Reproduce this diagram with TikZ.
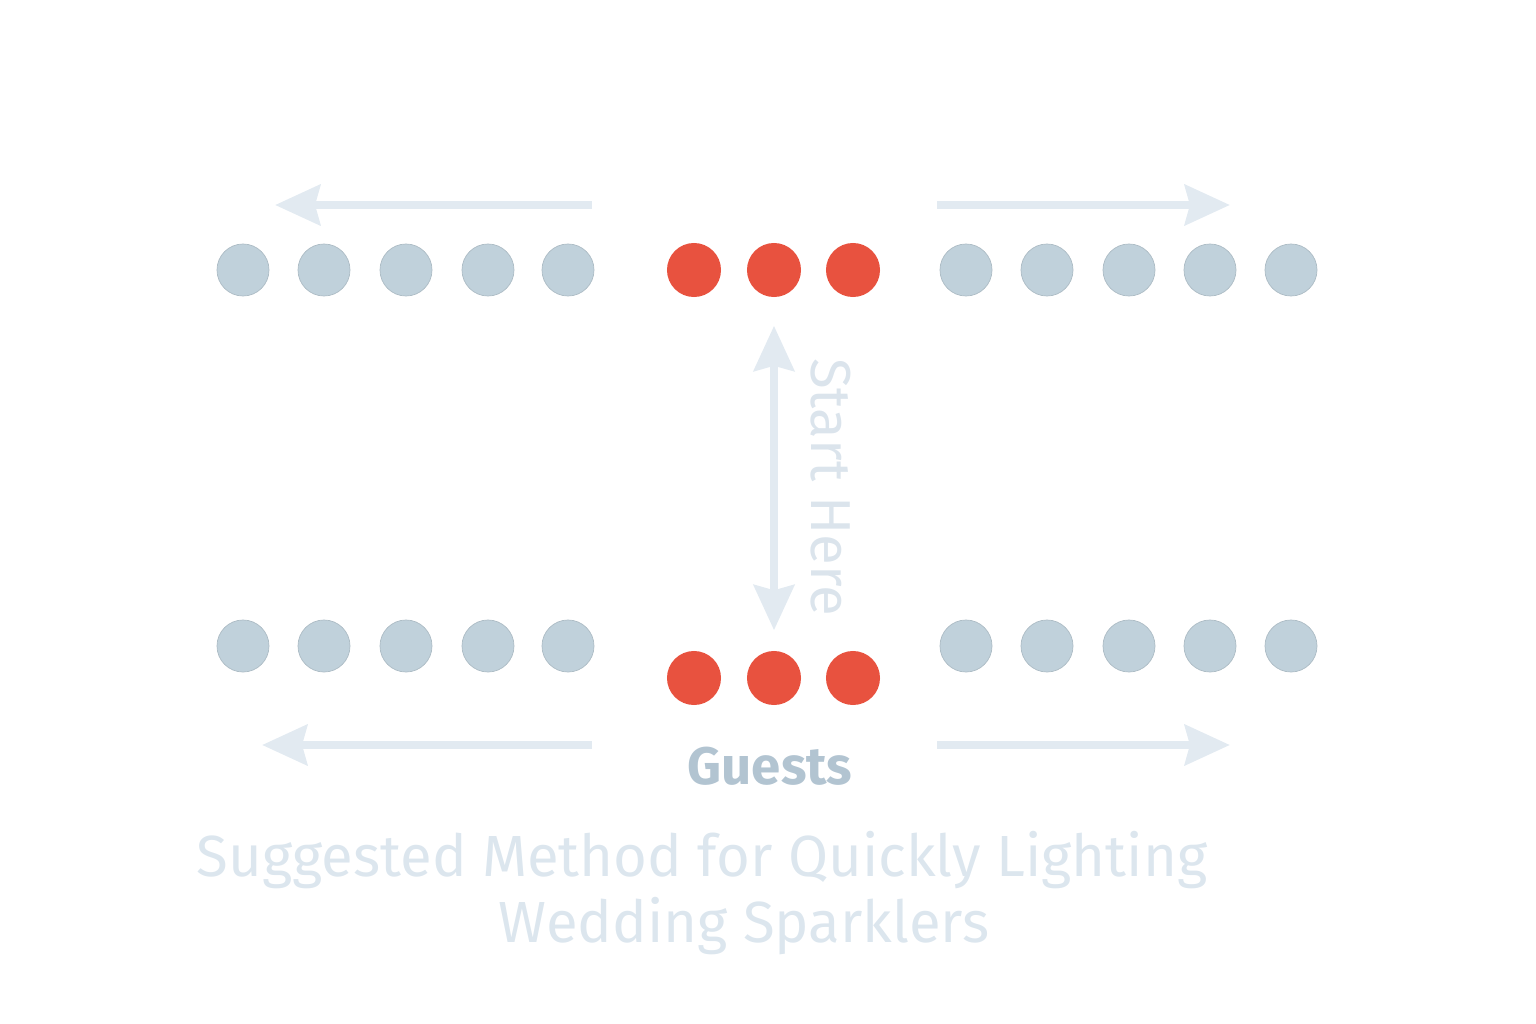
\documentclass[tikz,border=0pt]{standalone}
\usepackage{fontspec}
\setmainfont{Fira Sans}
\usetikzlibrary{arrows.meta}
\definecolor{dotgray}{HTML}{C0D1DB}
\definecolor{dotred}{HTML}{E8523F}
\definecolor{arrowblue}{HTML}{E2EAF1}
\definecolor{titleblue}{HTML}{DCE6EE}
\definecolor{guestblue}{HTML}{B2C4D1}
\tikzset{
  guest/.style={circle,fill=dotgray,draw=dotgray!90!black,line width=0.2pt,minimum size=0.52cm,inner sep=0pt},
  lit/.style={circle,fill=dotred,minimum size=0.54cm,inner sep=0pt},
  flow/.style={draw=arrowblue,line width=2.5pt,>={Stealth[length=0.45cm,width=0.4cm,inset=0.05cm]},->},
}
\begin{document}
\begin{tikzpicture}[x=0.01cm,y=-0.01cm]
  \useasboundingbox (0,0) rectangle (1536,1024);
  % guest rows
  \foreach \x [count=\i] in {243,324,406,488,568} {
    \node[guest] (tl\i) at (\x,270) {};
    \node[guest] (bl\i) at (\x,646) {};
  }
  \foreach \x [count=\i] in {966,1047,1129,1210,1291} {
    \node[guest] (tr\i) at (\x,270) {};
    \node[guest] (br\i) at (\x,646) {};
  }
  % sparklers lit first
  \foreach \x [count=\i] in {694,774,853} {
    \node[lit] (ts\i) at (\x,270) {};
    \node[lit] (bs\i) at (\x,678) {};
  }
  % direction arrows
  \coordinate (a1) at (592,205); \coordinate (a2) at (275,205);
  \coordinate (b1) at (937,205); \coordinate (b2) at (1230,205);
  \coordinate (c1) at (592,745); \coordinate (c2) at (262,745);
  \coordinate (d1) at (937,745); \coordinate (d2) at (1230,745);
  \draw[flow] (a1) -- (a2);
  \draw[flow] (b1) -- (b2);
  \draw[flow] (c1) -- (c2);
  \draw[flow] (d1) -- (d2);
  % start here
  \draw[flow,<->] ([yshift=-0.28cm]ts2.south) -- ([yshift=0.2cm]bs2.north);
  \node[rotate=-90,text=arrowblue!85!guestblue,font=\fontsize{16}{18}\selectfont] (start) at (831,487) {Start Here};
  \node[text=guestblue,font=\bfseries\fontsize{15}{18}\selectfont] (guests) at (770,766) {Guests};
  % title
  \node[text=titleblue,font=\fontsize{16.5}{19}\selectfont] (title1) at (702,860) {Suggested Method for Quickly Lighting};
  \node[text=titleblue,font=\fontsize{16.5}{19}\selectfont] (title2) at (744,926) {Wedding Sparklers};
\end{tikzpicture}
\end{document}
